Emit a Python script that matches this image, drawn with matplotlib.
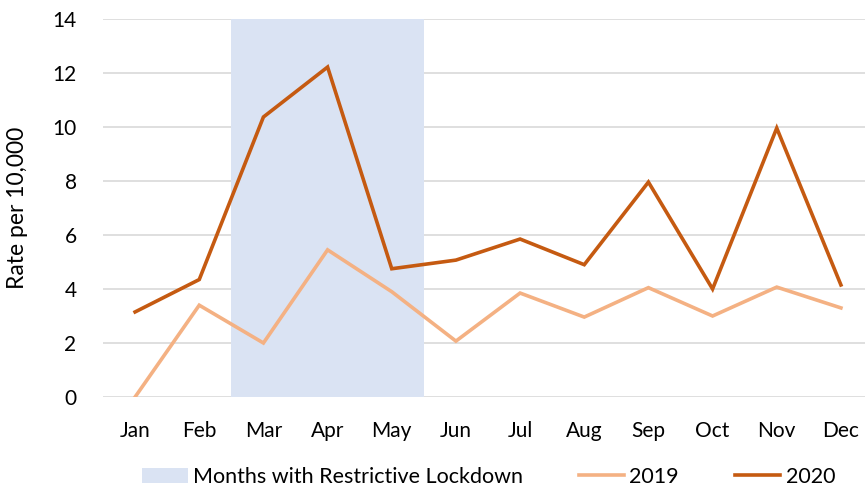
import matplotlib.pyplot as plt
from matplotlib.patches import Patch
from matplotlib.lines import Line2D

months = ['Jan', 'Feb', 'Mar', 'Apr', 'May', 'Jun', 'Jul', 'Aug', 'Sep', 'Oct', 'Nov', 'Dec']
rate_2019 = [0, 3.4, 2.0, 5.45, 3.9, 2.07, 3.85, 2.96, 4.05, 3.0, 4.07, 3.3]
rate_2020 = [3.15, 4.35, 10.37, 12.22, 4.75, 5.07, 5.85, 4.9, 7.96, 4.0, 9.96, 4.15]
lockdown_months = ['Mar', 'Apr', 'May']

plt.rcParams['font.family'] = ['Lato', 'DejaVu Sans']

fig = plt.figure(figsize=(8.65, 4.9), dpi=100)
ax = fig.add_axes([103 / 865, 1 - 397 / 490, 770 / 865, 378 / 490])

x = list(range(len(months)))
lock_idx = [months.index(m) for m in lockdown_months]
ax.bar(lock_idx, [14] * len(lock_idx), width=1.0, color='#DAE3F3', zorder=1)

ax.plot(x, rate_2019, color='#F4B183', linewidth=2.6, zorder=3, solid_joinstyle='miter')
ax.plot(x, rate_2020, color='#C55A11', linewidth=2.6, zorder=4, solid_joinstyle='miter')

ax.set_xlim(-0.5, 11.5)
ax.set_ylim(0, 14)
ax.set_yticks(range(0, 15, 2))
ax.set_xticks(x)
ax.set_xticklabels(months)
ax.yaxis.grid(True, color='#D9D9D9', linewidth=1.2, zorder=0)
ax.set_axisbelow(True)
for s in ax.spines.values():
    s.set_visible(False)
ax.tick_params(length=0, labelsize=15, colors='#000000')
ax.tick_params(axis='y', pad=19)
ax.tick_params(axis='x', pad=17)
ax.set_ylabel('Rate per 10,000', fontsize=16.5)
ax.yaxis.set_label_coords(-0.097, 0.5)

handles = [Patch(facecolor='#DAE3F3', edgecolor='none'),
           Line2D([], [], color='#F4B183', linewidth=2.6),
           Line2D([], [], color='#C55A11', linewidth=2.6)]
labels = ['Months with Restrictive Lockdown', '2019', '2020']
fig.legend(handles, labels, loc='center', bbox_to_anchor=(0.565, 1 - 477 / 490), ncol=3,
           frameon=False, fontsize=15.5, columnspacing=2.6, handlelength=2.1,
           handletextpad=0.25)

fig.savefig('out.png', dpi=100)
